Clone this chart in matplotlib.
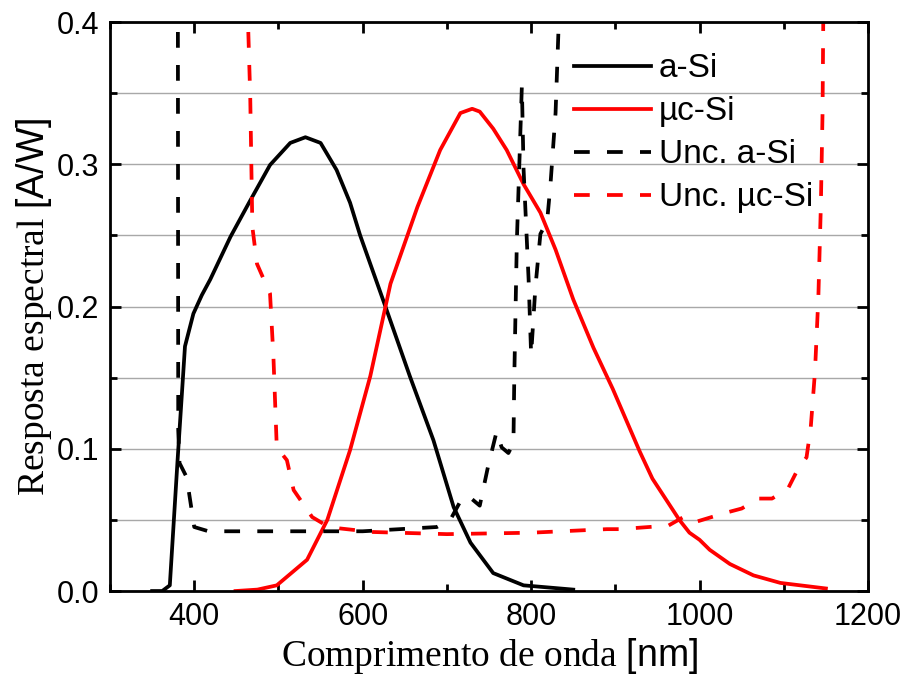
import matplotlib
matplotlib.use('Agg')
import matplotlib.pyplot as plt
from matplotlib.ticker import MultipleLocator

# spectral response curves [nm, A/W]
asi_wl = [350, 362, 371, 380, 389, 399, 409, 419, 443, 466, 490, 514, 532, 550,
          569, 585, 597, 627, 656, 684, 708, 728, 755, 791, 850]
asi_sr = [0.0, 0.0, 0.004, 0.09, 0.172, 0.195, 0.208, 0.219, 0.249, 0.274, 0.2995,
          0.315, 0.319, 0.315, 0.296, 0.273, 0.25, 0.2, 0.151, 0.106, 0.059, 0.034,
          0.0126, 0.004, 0.001]

ucsi_wl = [449, 475, 498, 534, 558, 585, 609, 633, 665, 692, 716, 730, 739, 755,
           771, 791, 811, 829, 850, 874, 897, 929, 944, 976, 988, 1000, 1012, 1036,
           1064, 1096, 1150]
ucsi_sr = [0.0, 0.001, 0.004, 0.022, 0.05, 0.099, 0.151, 0.216, 0.27, 0.31, 0.336,
           0.339, 0.337, 0.325, 0.31, 0.286, 0.266, 0.24, 0.205, 0.171, 0.142, 0.098,
           0.079, 0.05, 0.041, 0.036, 0.029, 0.019, 0.011, 0.0057, 0.0018]

# measurement uncertainty curves
unc_asi_wl = [380.5, 381, 382.5, 391, 400, 417, 500, 600, 688, 704, 715, 725, 739,
              749, 759, 765, 773, 779, 780, 783, 789, 791, 794, 797, 800, 805, 811,
              819, 823, 829, 834]
unc_asi_sr = [0.45, 0.113, 0.09, 0.08, 0.045, 0.042, 0.042, 0.042, 0.045, 0.05,
              0.062, 0.067, 0.06, 0.088, 0.112, 0.101, 0.097, 0.104, 0.15, 0.245,
              0.355, 0.297, 0.258, 0.219, 0.166, 0.213, 0.251, 0.26, 0.286, 0.336, 0.42]

unc_ucsi_wl = [463.5, 464, 466.5, 469, 474.5, 490, 494, 498, 510, 518, 540, 557, 573,
               612, 700, 800, 890, 905, 963, 983, 996, 1031, 1050, 1070, 1086, 1105,
               1117, 1127, 1132, 1137, 1141, 1144, 1146, 1147.5]
unc_ucsi_sr = [0.45, 0.397, 0.347, 0.256, 0.23, 0.209, 0.165, 0.101, 0.092, 0.071,
               0.052, 0.046, 0.044, 0.0415, 0.04, 0.041, 0.0435, 0.0435, 0.046, 0.0527,
               0.0487, 0.055, 0.058, 0.065, 0.065, 0.072, 0.086, 0.094, 0.115, 0.154,
               0.206, 0.271, 0.336, 0.45]

plt.rcParams['font.family'] = 'Liberation Serif'
plt.rcParams['mathtext.fontset'] = 'custom'
plt.rcParams['mathtext.sf'] = 'Liberation Sans'
plt.rcParams['mathtext.rm'] = 'Liberation Sans'

fig = plt.figure(figsize=(9.04, 6.75), dpi=100)
ax = fig.add_axes([0.1217, 0.1244, 0.8385, 0.843])

dash = (0, (4.2, 4.6))
ax.plot(asi_wl, asi_sr, color='black', lw=2.7, label='a-Si')
ax.plot(ucsi_wl, ucsi_sr, color='#ff0000', lw=2.7, label='\u00b5c-Si')
ax.plot(unc_asi_wl, unc_asi_sr, color='black', lw=2.7, ls=dash, label='Unc. a-Si')
ax.plot(unc_ucsi_wl, unc_ucsi_sr, color='#ff0000', lw=2.7, ls=dash, label='Unc. \u00b5c-Si')

ax.set_xlim(300, 1200)
ax.set_ylim(0, 0.4)
ax.xaxis.set_major_locator(MultipleLocator(200))
ax.xaxis.set_minor_locator(MultipleLocator(100))
ax.yaxis.set_major_locator(MultipleLocator(0.1))
ax.yaxis.set_minor_locator(MultipleLocator(0.05))
ax.yaxis.set_major_formatter(matplotlib.ticker.FormatStrFormatter('%.1f'))

ax.grid(True, axis='y', which='both', color='#a8a8a8', lw=1.0)
ax.set_axisbelow(True)

ax.tick_params(which='both', direction='in', top=True, right=True, width=2)
ax.tick_params(which='major', length=8)
ax.tick_params(which='minor', length=5)
ax.tick_params(axis='both', labelsize=22, pad=8)
for lab in ax.get_xticklabels() + ax.get_yticklabels():
    lab.set_fontfamily('Liberation Sans')
for sp in ax.spines.values():
    sp.set_linewidth(2)

ax.set_xlabel('Comprimento de onda $\\mathsf{[nm]}$', fontsize=27, labelpad=3)
ax.set_ylabel('Resposta espectral $\\mathsf{[A/W]}$', fontsize=27, labelpad=2)

ax.legend(loc='upper left', bbox_to_anchor=(0.612, 0.945), frameon=False,
          prop={'family': 'Liberation Sans', 'size': 24}, handlelength=2.3,
          handletextpad=0.25, labelspacing=0.36, borderpad=0, borderaxespad=0)

fig.savefig('out.png', dpi=100)
